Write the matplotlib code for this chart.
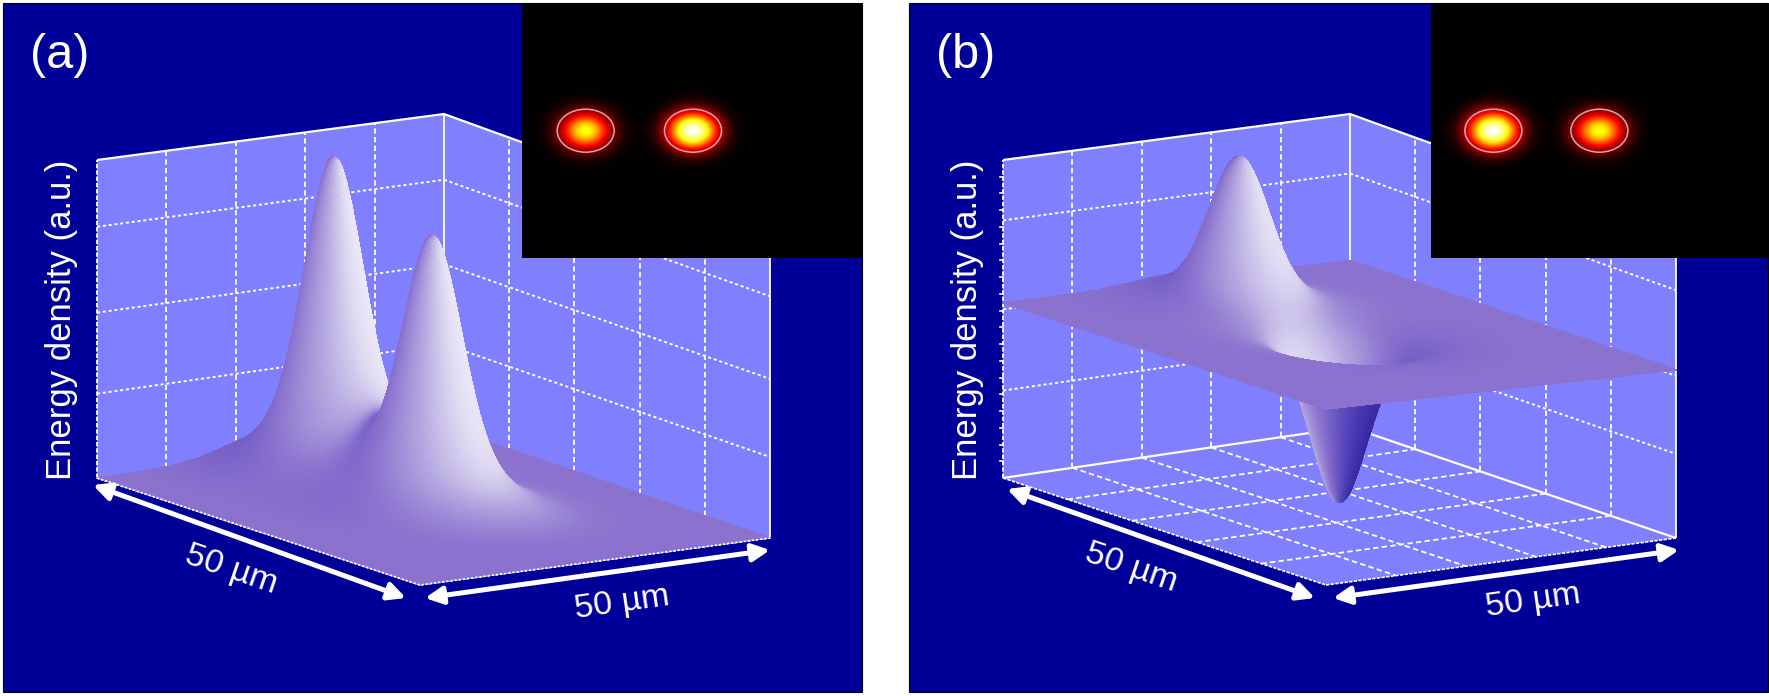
import numpy as np
import matplotlib
matplotlib.use("Agg")
import matplotlib.pyplot as plt
from matplotlib.collections import PolyCollection
from matplotlib.colors import LinearSegmentedColormap
from matplotlib.patches import FancyArrowPatch, Rectangle, Ellipse

plt.rcParams['font.family'] = ['Liberation Sans', 'DejaVu Sans']

W, H = 1769, 696
NAVY = '#000099'
WALL = '#8080FF'

# --- values ---
panel_labels = ['(a)', '(b)']
z_label = 'Energy density (a.u.)'
size_label = '50 µm'
panel_x = [3, 909]                # left edge of each panel
panel_w, panel_top, panel_bot = 859, 3, 692
plane_z = [0.0, 0.55]             # height of the flat part of the surface
plane_tilt = [0.0, 0.018]
peak_u = [0.50, 0.50]             # peak position along back edge
peak_v = [0.195, 0.50]            # peak position along side edge
peak_amp_a = [1.0, 0.86]          # panel a peak heights
peak_amp_b = [0.47, -0.54]        # panel b peak heights
peak_sig_a = [0.058, 0.058]
peak_sig_b = [0.060, 0.056]
skirt_frac_a = 0.25
skirt_frac_b = 0.18
spot_x_a = [63.7, 171.0]          # inset spot centres (px from inset left)
spot_x_b = [62.4, 168.4]
spot_amp_a = [0.72, 1.0]
spot_amp_b = [1.0, 0.72]
z_grid_a = [0.265, 0.52, 0.79]
z_grid_b = [0.275, 0.53, 0.81]

# floor corners relative to panel a (px) and wall height there
A, B, C, D = np.array([97., 478.]), np.array([444., 427.]), np.array([770., 538.]), np.array([420., 585.])
hA, hB, hC, hD = 318., 313., 306., 310.


def project(u, v, z, dx=0.0):
    u, v, z = np.asarray(u, float), np.asarray(v, float), np.asarray(z, float)
    w = [(1-u)*(1-v), u*(1-v), u*v, (1-u)*v]
    x = w[0]*A[0] + w[1]*B[0] + w[2]*C[0] + w[3]*D[0] + dx
    y = w[0]*A[1] + w[1]*B[1] + w[2]*C[1] + w[3]*D[1]
    h = w[0]*hA + w[1]*hB + w[2]*hC + w[3]*hD
    return x, y - z*h


cmap = LinearSegmentedColormap.from_list('shade', [
    (0.00, '#2A1C98'), (0.25, '#5544BA'), (0.50, '#8A72CE'),
    (0.72, '#B4A8E0'), (0.90, '#E0DAF2'), (1.00, '#F0EEFA')])
hot_black = LinearSegmentedColormap.from_list('hotb', [
    (0.0, '#000000'), (0.08, '#300000'), (0.36, '#FF0000'), (0.70, '#FFFF00'), (1.0, '#FFFFFF')])

fig = plt.figure(figsize=(W/100, H/100), dpi=100, facecolor='white')
ax = fig.add_axes([0, 0, 1, 1])
ax.set_xlim(0, W)
ax.set_ylim(H, 0)
ax.axis('off')


def line(pts_u, pts_v, pts_z, dx, **kw):
    x, y = project(pts_u, pts_v, pts_z, dx)
    ax.plot(x, y, color='white', solid_capstyle='butt', **kw)


def surface(dx, base, tilt, amps, sigs, skirt):
    n = 260
    uu = np.linspace(0, 1, n)
    vv = np.linspace(0, 1, n)
    U, V = np.meshgrid(uu, vv, indexing='ij')
    Z = base + tilt*(V-U)
    for a, s, pu, pv in zip(amps, sigs, peak_u, peak_v):
        r2 = (U-pu)**2 + (V-pv)**2
        Z = Z + a*((1-skirt)*np.exp(-r2/(2*s*s)) + skirt*np.exp(-r2/(2*(2.1*s)**2)))
    dzdu, dzdv = np.gradient((Z-tilt*(V-U))*312, uu*345, vv*340)
    nz = 1/np.sqrt(1+dzdu**2+dzdv**2)
    nu, nv = -dzdu*nz, -dzdv*nz
    lit = (0.5*nu + 0.85*nv)/np.hypot(0.5, 0.85)
    top = 0.5*lit + 0.5*(1-nz)
    under = 0.7*lit - 0.15
    facing = -0.675*nu + 0.675*nv + 0.295*nz
    shade = np.where(facing < 0, under, top)
    x, y = project(U, V, Z, dx)
    xy = np.stack([x, y], -1)
    quads = np.stack([xy[:-1, :-1], xy[1:, :-1], xy[1:, 1:], xy[:-1, 1:]], 2).reshape(-1, 4, 2)
    vals = 0.25*(shade[:-1, :-1]+shade[1:, :-1]+shade[1:, 1:]+shade[:-1, 1:]).ravel()
    depth = (V[:-1, :-1] + (1-U[:-1, :-1])).ravel()
    order = np.argsort(depth, kind='stable')
    pc = PolyCollection(quads[order], array=vals[order], cmap=cmap, clim=(-1, 1),
                        edgecolors='face', linewidths=0.5, antialiaseds=False, zorder=5)
    ax.add_collection(pc)


def arrow(p0, p1, dx):
    ax.add_patch(FancyArrowPatch((p0[0]+dx, p0[1]), (p1[0]+dx, p1[1]), arrowstyle='<|-|>',
                 mutation_scale=26, lw=3.6, color='white', shrinkA=0, shrinkB=0, zorder=7))


def inset(x0, w, spots, amps):
    y0, h = 3, 255
    nx, ny = 113, 85
    xs = (np.arange(nx)+.5)*w/nx
    ys = (np.arange(ny)+.5)*h/ny
    X, Y = np.meshgrid(xs, ys)
    I = np.zeros_like(X)
    for sx, a in zip(spots, amps):
        I += a*np.exp(-1.35*(((X-sx)/28.5)**2 + ((Y-127.7)/21.5)**2))
    ax.imshow(I, extent=(x0, x0+w, y0+h, y0), cmap=hot_black, vmin=0, vmax=1, zorder=8,
              interpolation='bilinear', aspect='auto')
    for sx in spots:
        ax.add_patch(Ellipse((x0+sx, y0+127.7), 57, 43, fc='none', ec='#D0A8A8', lw=1.1, zorder=9))


left_arrow = [((93, 485), (406, 598)), ((101, 489), (409, 598))]
right_arrow = [((425, 598), (770, 550)), ((427, 598), (773, 550))]
left_text = [(231, 570), (225, 568)]
right_text = [(622, 603), (627, 601)]
inset_x = [(522, 340), (1431, 337)]

for i in range(2):
    dx = panel_x[i] - panel_x[0]
    ax.add_patch(Rectangle((panel_x[i], panel_top), panel_w, panel_bot-panel_top, fc=NAVY, ec='black', lw=0.8, zorder=1))
    # walls
    for (u0, v0, u1, v1) in [(0, 0, 1, 0), (1, 0, 1, 1)]:
        xs, ys = project([u0, u1, u1, u0], [v0, v1, v1, v0], [0, 0, 1, 1], dx)
        ax.fill(xs, ys, color=WALL, lw=0, zorder=2)
    if i == 1:
        xs, ys = project([0, 1, 1, 0], [0, 0, 1, 1], [0, 0, 0, 0], dx)
        ax.fill(xs, ys, color=WALL, lw=0, zorder=2)
    kw = dict(lw=1.3, dashes=(3.0, 1.8), zorder=3)
    zg = z_grid_a if i == 0 else z_grid_b
    for k in range(1, 5):
        line([k/5, k/5], [0, 0], [0, 1], dx, **kw)
        line([1, 1], [k/5, k/5], [0, 1], dx, **kw)
    for z in zg:
        line([0, 1], [0, 0], [z, z], dx, lw=1.4, dashes=(1.6, 1.4), zorder=3)
        line([1, 1], [0, 1], [z, z], dx, lw=1.4, dashes=(1.6, 1.4), zorder=3)
    # frame of the walls
    line([1, 1], [0, 0], [0, 1], dx, lw=1.3, zorder=3)
    line([1, 1], [1, 1], [0, 1], dx, lw=1.3, zorder=3)
    line([0, 1, 1], [0, 0, 1], [1, 1, 1], dx, lw=1.6, zorder=3)
    line([0, 0], [0, 0], [0, 1], dx, lw=1.3, dashes=(2.5, 1.0), zorder=3)
    if i == 1:
        for k in range(1, 5):
            line([k/5, k/5], [0, 1], [0, 0], dx, **kw)
            line([0, 1], [k/5, k/5], [0, 0], dx, **kw)
        line([0, 1, 1], [0, 0, 1], [0, 0, 0], dx, lw=1.6, zorder=3)
        line([0, 1], [1, 1], [0, 0], dx, lw=1.2, dashes=(2, .8), zorder=3)
        line([0, 0], [0, 1], [0, 0], dx, lw=1.2, dashes=(2, .8), zorder=3)
        for z in np.arange(1, 19)/19:
            x, y = project(0, 0, z, dx)
            ax.plot([x-3, x], [y, y], color='white', lw=1.2, zorder=3)
    if i == 0:
        surface(dx, plane_z[0], plane_tilt[0], peak_amp_a, peak_sig_a, skirt_frac_a)
        line([0, 0, 1], [0, 1, 1], [0, 0, 0], dx, lw=1.2, dashes=(1.5, 1.0), zorder=6)
    else:
        surface(dx, plane_z[1], plane_tilt[1], peak_amp_b, peak_sig_b, skirt_frac_b)
    arrow(*left_arrow[i], dx)
    arrow(*right_arrow[i], dx)
    inset(inset_x[i][0], inset_x[i][1], spot_x_a if i == 0 else spot_x_b, spot_amp_a if i == 0 else spot_amp_b)
    ax.set_xlim(0, W)
    ax.set_ylim(H, 0)
    ax.text(30+dx, 55, panel_labels[i], color='white', fontsize=35, ha='left', va='center', zorder=10)
    ax.text(62+dx, 320, z_label, color='white', fontsize=25, rotation=90, ha='center', va='center', zorder=10)
    ax.text(left_text[i][0]+dx, left_text[i][1], size_label, color='white', fontsize=24.5, rotation=-19,
            ha='center', va='center', rotation_mode='anchor', zorder=10)
    ax.text(right_text[i][0]+dx, right_text[i][1], size_label, color='white', fontsize=24.5, rotation=8,
            ha='center', va='center', rotation_mode='anchor', zorder=10)

fig.savefig('out.png', dpi=100, facecolor='white')
